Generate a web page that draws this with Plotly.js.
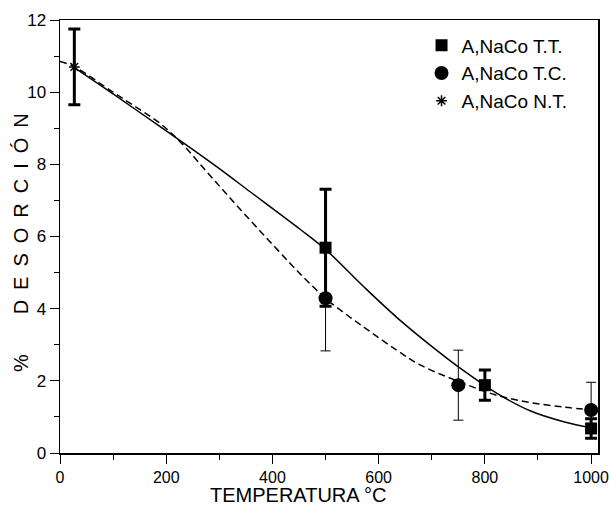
<!DOCTYPE html>
<html>
<head>
<meta charset="utf-8">
<script src="https://cdn.plot.ly/plotly-3.0.1.min.js"></script>
<style>html,body{margin:0;padding:0;background:#fff;}#chart{width:609px;height:508px;}</style>
</head>
<body>
<div id="chart"></div>
<script>
// Measured points
const ttX = [500, 800, 1000];
const ttY = [5.69, 1.88, 0.68];
const ttErr = [1.62, 0.42, 0.27];

const tcX = [500, 750, 1000];
const tcY = [4.29, 1.88, 1.19];
const tcErr = [1.46, 0.97, 0.77];

const ntX = [27];
const ntY = [10.7];
const ntErr = [1.05];

// Fitted curves
const fitSolidX = [25, 100, 188, 251, 300, 358, 452, 500, 571, 634, 697, 760, 822, 885, 950, 1000];
const fitSolidY = [10.7, 9.95, 9.05, 8.4, 7.88, 7.24, 6.2, 5.64, 4.62, 3.76, 2.99, 2.28, 1.66, 1.17, 0.86, 0.7];

const fitDashX = [0, 25, 100, 150, 188, 226, 276, 326, 380, 433, 470, 508, 571, 634, 678, 760, 822, 885, 950, 1000];
const fitDashY = [10.85, 10.72, 10.0, 9.52, 9.14, 8.63, 7.8, 6.97, 6.1, 5.26, 4.7, 4.19, 3.5, 2.85, 2.44, 1.93, 1.6, 1.4, 1.27, 1.2];

const xTickVals = [0, 200, 400, 600, 800, 1000];
const yTickVals = [0, 2, 4, 6, 8, 10, 12];

const seriesNames = ['A,NaCo T.T.', 'A,NaCo T.C.', 'A,NaCo N.T.'];
const xTitle = 'TEMPERATURA °C';
const yTitleParts = ['%', 'D', 'E', 'S', 'O', 'R', 'C', 'I', 'Ó', 'N'];

const en = '\u2002';
const yTitle = yTitleParts[0] + en.repeat(4) + yTitleParts.slice(1).join(en);

const traces = [
  {x: fitSolidX, y: fitSolidY, mode: 'lines', showlegend: false, hoverinfo: 'skip',
   line: {color: '#000', width: 1.5, shape: 'spline', smoothing: 1}},
  {x: fitDashX, y: fitDashY, mode: 'lines', showlegend: false, hoverinfo: 'skip',
   line: {color: '#000', width: 1.5, dash: '7px,4px', shape: 'spline', smoothing: 1}},
  {x: ttX, y: ttY, name: seriesNames[0], mode: 'markers', type: 'scatter',
   marker: {symbol: 'square', size: 12, color: '#000'},
   error_y: {type: 'data', array: ttErr, visible: true, color: '#000', thickness: 3, width: 6}},
  {x: tcX, y: tcY, name: seriesNames[1], mode: 'markers', type: 'scatter',
   marker: {symbol: 'circle', size: 14, color: '#000'},
   error_y: {type: 'data', array: tcErr, visible: true, color: '#000', thickness: 1, width: 5}},
  {x: ntX, y: ntY, name: seriesNames[2], mode: 'markers', type: 'scatter',
   marker: {symbol: 'asterisk', size: 9, color: '#000', line: {color: '#000', width: 1.5}},
   error_y: {type: 'data', array: ntErr, visible: true, color: '#000', thickness: 3, width: 6}}
];

const layout = {
  width: 609, height: 508,
  margin: {l: 60, r: 11, t: 20, b: 55},
  paper_bgcolor: '#fff', plot_bgcolor: '#fff',
  font: {family: 'Liberation Sans, Arial, sans-serif', color: '#000', size: 17},
  showlegend: true,
  legend: {x: 0.672, y: 0.985, xanchor: 'left', yanchor: 'top', bgcolor: 'rgba(0,0,0,0)',
           borderwidth: 0, font: {size: 19}},
  xaxis: {range: [0, 1013], tickmode: 'array', tickvals: xTickVals,
          ticks: 'outside', ticklen: 9, tickwidth: 1, tickcolor: '#000',
          ticklabeloverflow: 'allow',
          minor: {dtick: 100, tick0: 0, ticks: 'outside', ticklen: 5, tickwidth: 1, tickcolor: '#000', showgrid: false},
          showline: true, linecolor: '#000', linewidth: 1.5, mirror: true,
          showgrid: false, zeroline: false, tickfont: {size: 16}},
  yaxis: {range: [0, 12], tickmode: 'array', tickvals: yTickVals,
          ticks: 'outside', ticklen: 9, tickwidth: 1, tickcolor: '#000',
          ticklabeloverflow: 'allow',
          minor: {dtick: 1, tick0: 0, ticks: 'outside', ticklen: 5, tickwidth: 1, tickcolor: '#000', showgrid: false},
          showline: true, linecolor: '#000', linewidth: 1.5, mirror: true,
          showgrid: false, zeroline: false, tickfont: {size: 17}},
  annotations: [
    {text: xTitle, xref: 'paper', yref: 'paper', x: 0.444, y: -0.097,
     xanchor: 'center', yanchor: 'middle', showarrow: false, font: {size: 20}},
    {text: yTitle, xref: 'paper', yref: 'paper', x: -0.0725, y: 0.487,
     xanchor: 'center', yanchor: 'middle', showarrow: false, textangle: -90, font: {size: 20}}
  ]
};

Plotly.newPlot('chart', traces, layout, {staticPlot: true, displayModeBar: false});
</script>
</body>
</html>
